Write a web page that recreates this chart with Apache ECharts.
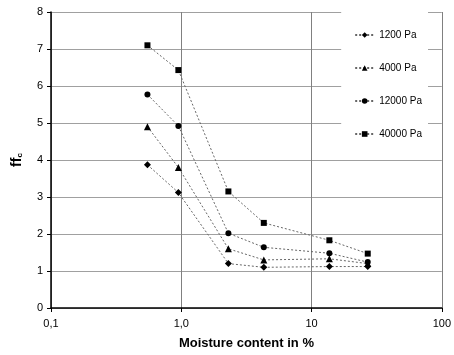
<!DOCTYPE html>
<html>
<head>
<meta charset="utf-8">
<script src="https://cdn.jsdelivr.net/npm/echarts@6/dist/echarts.min.js"></script>
<style>
  html, body { margin: 0; padding: 0; background: #fff; }
  #chart { width: 454px; height: 355px; }
</style>
</head>
<body>
<div id="chart"></div>
<script>
// moisture content (%) shared by all series
const moisture = [0.55, 0.95, 2.3, 4.3, 13.7, 27];
const ff1200 = [3.87, 3.12, 1.2, 1.1, 1.12, 1.12];
const ff4000 = [4.9, 3.8, 1.6, 1.3, 1.33, 1.2];
const ff12000 = [5.77, 4.92, 2.02, 1.64, 1.48, 1.24];
const ff40000 = [7.1, 6.43, 3.15, 2.3, 1.83, 1.47];
const seriesNames = ['1200 Pa', '4000 Pa', '12000 Pa', '40000 Pa'];
const xLabels = { 0.1: '0,1', 1: '1,0', 10: '10', 100: '100' };

const font = 'Liberation Sans, Arial, sans-serif';
const chart = echarts.init(document.getElementById('chart'));

function makeSeries(name, values, symbol, size) {
  return {
    name: name,
    type: 'line',
    data: moisture.map((m, i) => [m, values[i]]),
    symbol: symbol,
    symbolSize: size,
    lineStyle: { color: '#666', width: 1, type: [2, 2] },
    itemStyle: { color: '#000' },
    emphasis: { disabled: true }
  };
}

chart.setOption({
  animation: false,
  textStyle: { fontFamily: font },
  grid: { left: 51, right: 6, top: 12, bottom: 46 },
  legend: {
    orient: 'vertical',
    right: 26,
    top: 12,
    padding: [18, 6, 10, 13],
    itemGap: 23,
    itemWidth: 19,
    itemHeight: 7,
    backgroundColor: '#fff',
    textStyle: { fontSize: 10, color: '#000', fontFamily: font },
    data: seriesNames
  },
  xAxis: {
    type: 'log',
    logBase: 10,
    min: 0.1,
    max: 100,
    name: 'Moisture content in %',
    nameLocation: 'middle',
    nameGap: 29,
    nameTextStyle: { fontSize: 13, fontWeight: 'bold', color: '#000' },
    axisLine: { lineStyle: { color: '#000', width: 1.5 } },
    axisTick: { show: true, length: 4, lineStyle: { color: '#000' } },
    axisLabel: {
      color: '#000', fontSize: 11, margin: 10,
      formatter: v => xLabels[v] !== undefined ? xLabels[v] : ''
    },
    splitLine: { show: true, lineStyle: { color: '#808080', width: 1 } },
    minorTick: { show: false }
  },
  yAxis: {
    type: 'value',
    min: 0,
    max: 8,
    interval: 1,
    name: 'ff{sub|c}',
    nameLocation: 'middle',
    nameRotate: 90,
    nameGap: 27,
    nameTextStyle: {
      fontSize: 14, fontWeight: 'bold', color: '#000',
      rich: { sub: { fontSize: 8, fontWeight: 'bold', verticalAlign: 'bottom', padding: [6, 0, 0, 0] } }
    },
    axisLine: { show: true, lineStyle: { color: '#000', width: 1.5 } },
    axisTick: { show: true, length: 4, lineStyle: { color: '#000' } },
    axisLabel: { color: '#000', fontSize: 11, margin: 8 },
    splitLine: { show: true, lineStyle: { color: '#a0a0a0', width: 1 } }
  },
  series: [
    makeSeries(seriesNames[0], ff1200, 'diamond', 7),
    makeSeries(seriesNames[1], ff4000, 'triangle', 7),
    makeSeries(seriesNames[2], ff12000, 'circle', 6),
    makeSeries(seriesNames[3], ff40000, 'rect', 6)
  ]
});
</script>
</body>
</html>
